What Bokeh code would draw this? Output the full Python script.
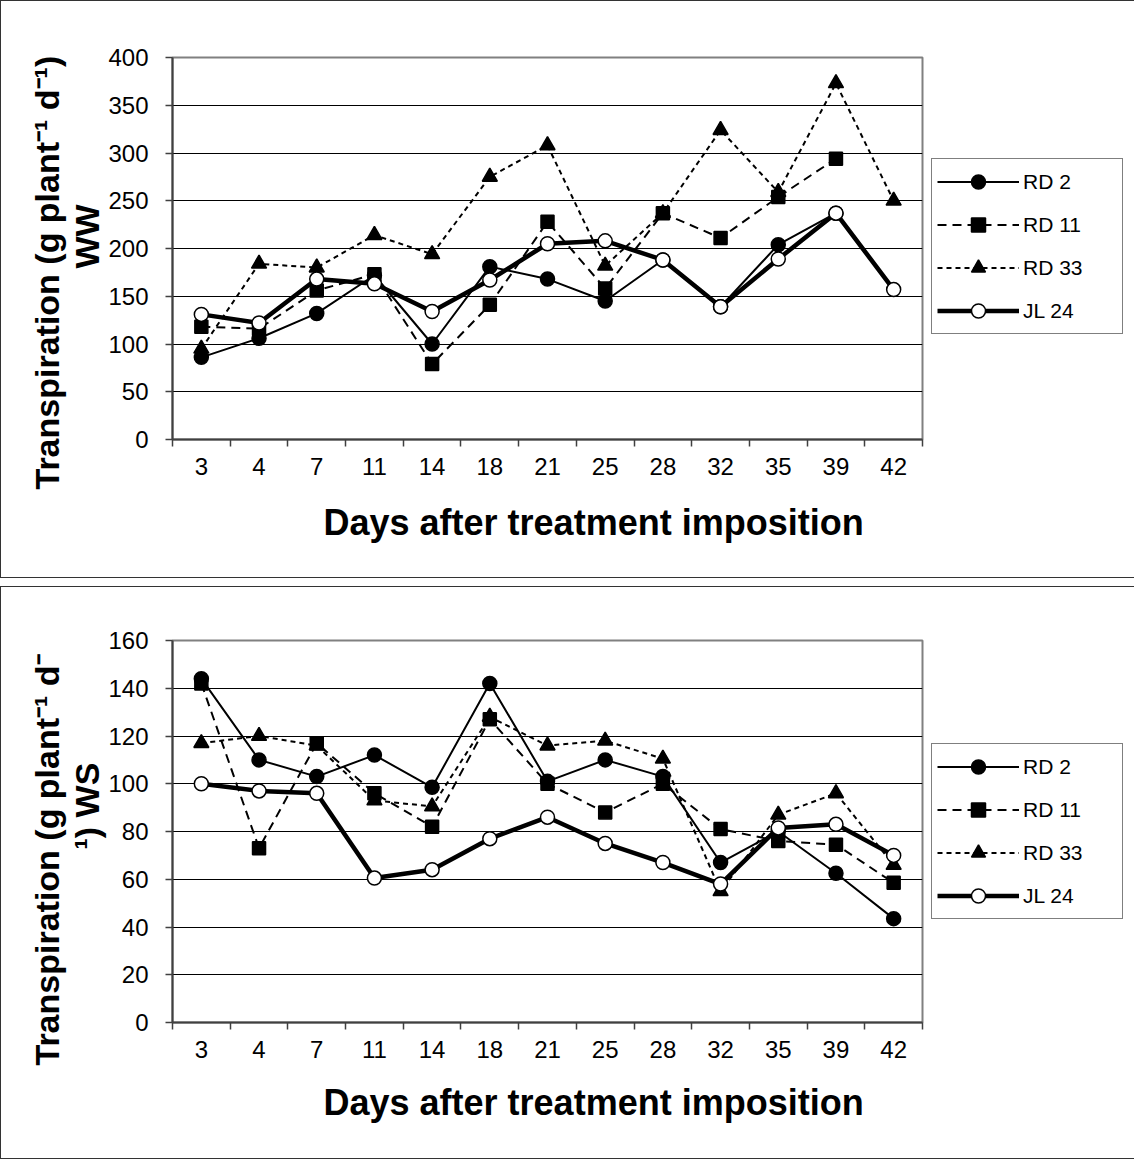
import numpy as np
from bokeh.plotting import figure
from bokeh.models import FixedTicker, Legend, LegendItem, Range1d, ColumnDataSource, Title
from bokeh.layouts import column
from bokeh.embed import file_html
from bokeh.resources import INLINE

# ---------------- data ----------------
days = ["3", "4", "7", "11", "14", "18", "21", "25", "28", "32", "35", "39", "42"]
series_names = ["RD 2", "RD 11", "RD 33", "JL 24"]

ww_rd2 = [86, 106, 132, 172, 100, 181, 168, 145, 188, 139, 204, 237, None]
ww_rd11 = [118, 116, 156, 173, 79, 141, 228, 158, 237, 211, 254, 294, None]
ww_rd33 = [95, 184, 180, 214, 194, 275, 308, 182, 237, 324, 259, 373, 250]
ww_jl24 = [131, 122, 168, 163, 134, 167, 205, 208, 188, 139, 189, 237, 157]

ws_rd2 = [144, 110, 103, 112, 98.5, 142, 101, 110, 103, 67, 80, 62.5, 43.5]
ws_rd11 = [142, 73, 117, 96, 82, 127, 100, 88, 100, 81, 76, 74.5, 58.5]
ws_rd33 = [117, 120, 116, 93, 90.5, 128, 116, 118, 110.5, 55, 87, 96, 66]
ws_jl24 = [100, 97, 96, 60.5, 64, 77, 86, 75, 67, 58, 81.5, 83, 70]

ww_title = ["Transpiration (g plant\u207b\u00b9 d\u207b\u00b9)", "WW"]
ws_title = ["Transpiration  (g plant\u207b\u00b9 d\u207b", "\u00b9) WS"]
x_title = "Days after treatment imposition"

FONT = "Liberation Sans"

STYLES = [
    dict(marker="circle", dash="solid", lw=2, fill="black", size=14),
    dict(marker="square", dash="9 6", lw=2, fill="black", size=13),
    dict(marker="triangle", dash="5 4", lw=2, fill="black", size=15),
    dict(marker="circle", dash="solid", lw=4.5, fill="white", size=14),
]


def to_arr(v):
    return np.array([np.nan if a is None else a for a in v], dtype=float)


def make_panel(values, ymax, ystep, title_lines, title_offsets, legend_loc,
               border_top, border_bottom, xtitle_standoff):
    n = len(days)
    xs = np.arange(n)
    p = figure(frame_width=748, frame_height=380,
               x_range=Range1d(-0.5, n - 0.5), y_range=Range1d(0, ymax),
               output_backend="svg", toolbar_location=None,
               min_border_left=171, min_border_right=213,
               min_border_top=border_top, min_border_bottom=border_bottom,
               background_fill_color="white", border_fill_color="white")
    p.styles = {"border": "1px solid #333333"}

    # axes
    p.xaxis.ticker = FixedTicker(ticks=list(xs), minor_ticks=[i - 0.5 for i in range(n + 1)])
    p.xaxis.major_label_overrides = {int(i): d for i, d in zip(xs, days)}
    p.xaxis.major_tick_line_color = None
    p.xaxis.major_tick_out = 7
    p.xaxis.major_tick_in = 0
    p.xaxis.minor_tick_out = 7
    p.xaxis.minor_tick_in = 0
    p.xaxis.minor_tick_line_color = "#404040"
    p.xaxis.minor_tick_line_width = 1.5
    p.xaxis.major_label_standoff = 11

    p.yaxis.ticker = FixedTicker(ticks=list(range(0, ymax + 1, ystep)))
    p.yaxis.minor_tick_line_color = None
    p.yaxis.major_tick_out = 7
    p.yaxis.major_tick_in = 0
    p.yaxis.major_tick_line_color = "#404040"
    p.yaxis.major_tick_line_width = 1.5
    p.yaxis.major_label_standoff = 17

    for ax in (p.xaxis, p.yaxis):
        ax.axis_line_color = "#404040"
        ax.axis_line_width = 2
        ax.major_label_text_font = FONT
        ax.major_label_text_font_size = "24px"
        ax.major_label_text_color = "black"

    p.xgrid.visible = False
    p.ygrid.ticker = FixedTicker(ticks=list(range(ystep, ymax, ystep)))
    p.ygrid.grid_line_color = "black"
    p.ygrid.grid_line_width = 1
    p.outline_line_color = "#808080"
    p.outline_line_width = 2

    items = []
    for name, vals, st in zip(series_names, values, STYLES):
        src = ColumnDataSource(dict(x=xs, y=to_arr(vals)))
        ln = p.line("x", "y", source=src, line_color="black", line_width=st["lw"],
                    line_dash=st["dash"])
        sc = p.scatter("x", "y", source=src, marker=st["marker"], size=st["size"],
                       fill_color=st["fill"], line_color="black", line_width=1.5)
        items.append(LegendItem(label=name, renderers=[ln, sc]))

    leg = Legend(items=items, location=legend_loc)
    leg.label_text_font = FONT
    leg.label_text_font_size = "21px"
    leg.label_text_color = "black"
    leg.glyph_width = 82
    leg.glyph_height = 35
    leg.label_height = 35
    leg.label_width = 94
    leg.label_standoff = 4
    leg.spacing = 8
    leg.padding = 5
    leg.margin = 0
    leg.border_line_color = "black"
    leg.border_line_width = 1
    leg.background_fill_color = "white"
    leg.background_fill_alpha = 1
    p.add_layout(leg, "right")

    # y title: second line nearest the axis, first line outside it
    for txt, off in zip(reversed(title_lines), reversed(title_offsets)):
        p.add_layout(Title(text=txt, align="left", offset=off, standoff=0,
                           text_font=FONT, text_font_size="34px",
                           text_font_style="bold", text_color="black"), "left")
    # x title
    p.add_layout(Title(text=x_title, align="left", offset=151, standoff=xtitle_standoff,
                       text_font=FONT, text_font_size="36px",
                       text_font_style="bold", text_color="black"), "below")
    return p


p1 = make_panel([ww_rd2, ww_rd11, ww_rd33, ww_jl24], 400, 50, ww_title,
                [-50, 171], (9, 105), 56, 140, 44)
p2 = make_panel([ws_rd2, ws_rd11, ws_rd33, ws_jl24], 160, 20, ws_title,
                [-43, 173], (9, 103), 53, 138, 39)

layout = column(p1, p2, spacing=8)
open("out.html", "w").write(file_html(layout, INLINE))
